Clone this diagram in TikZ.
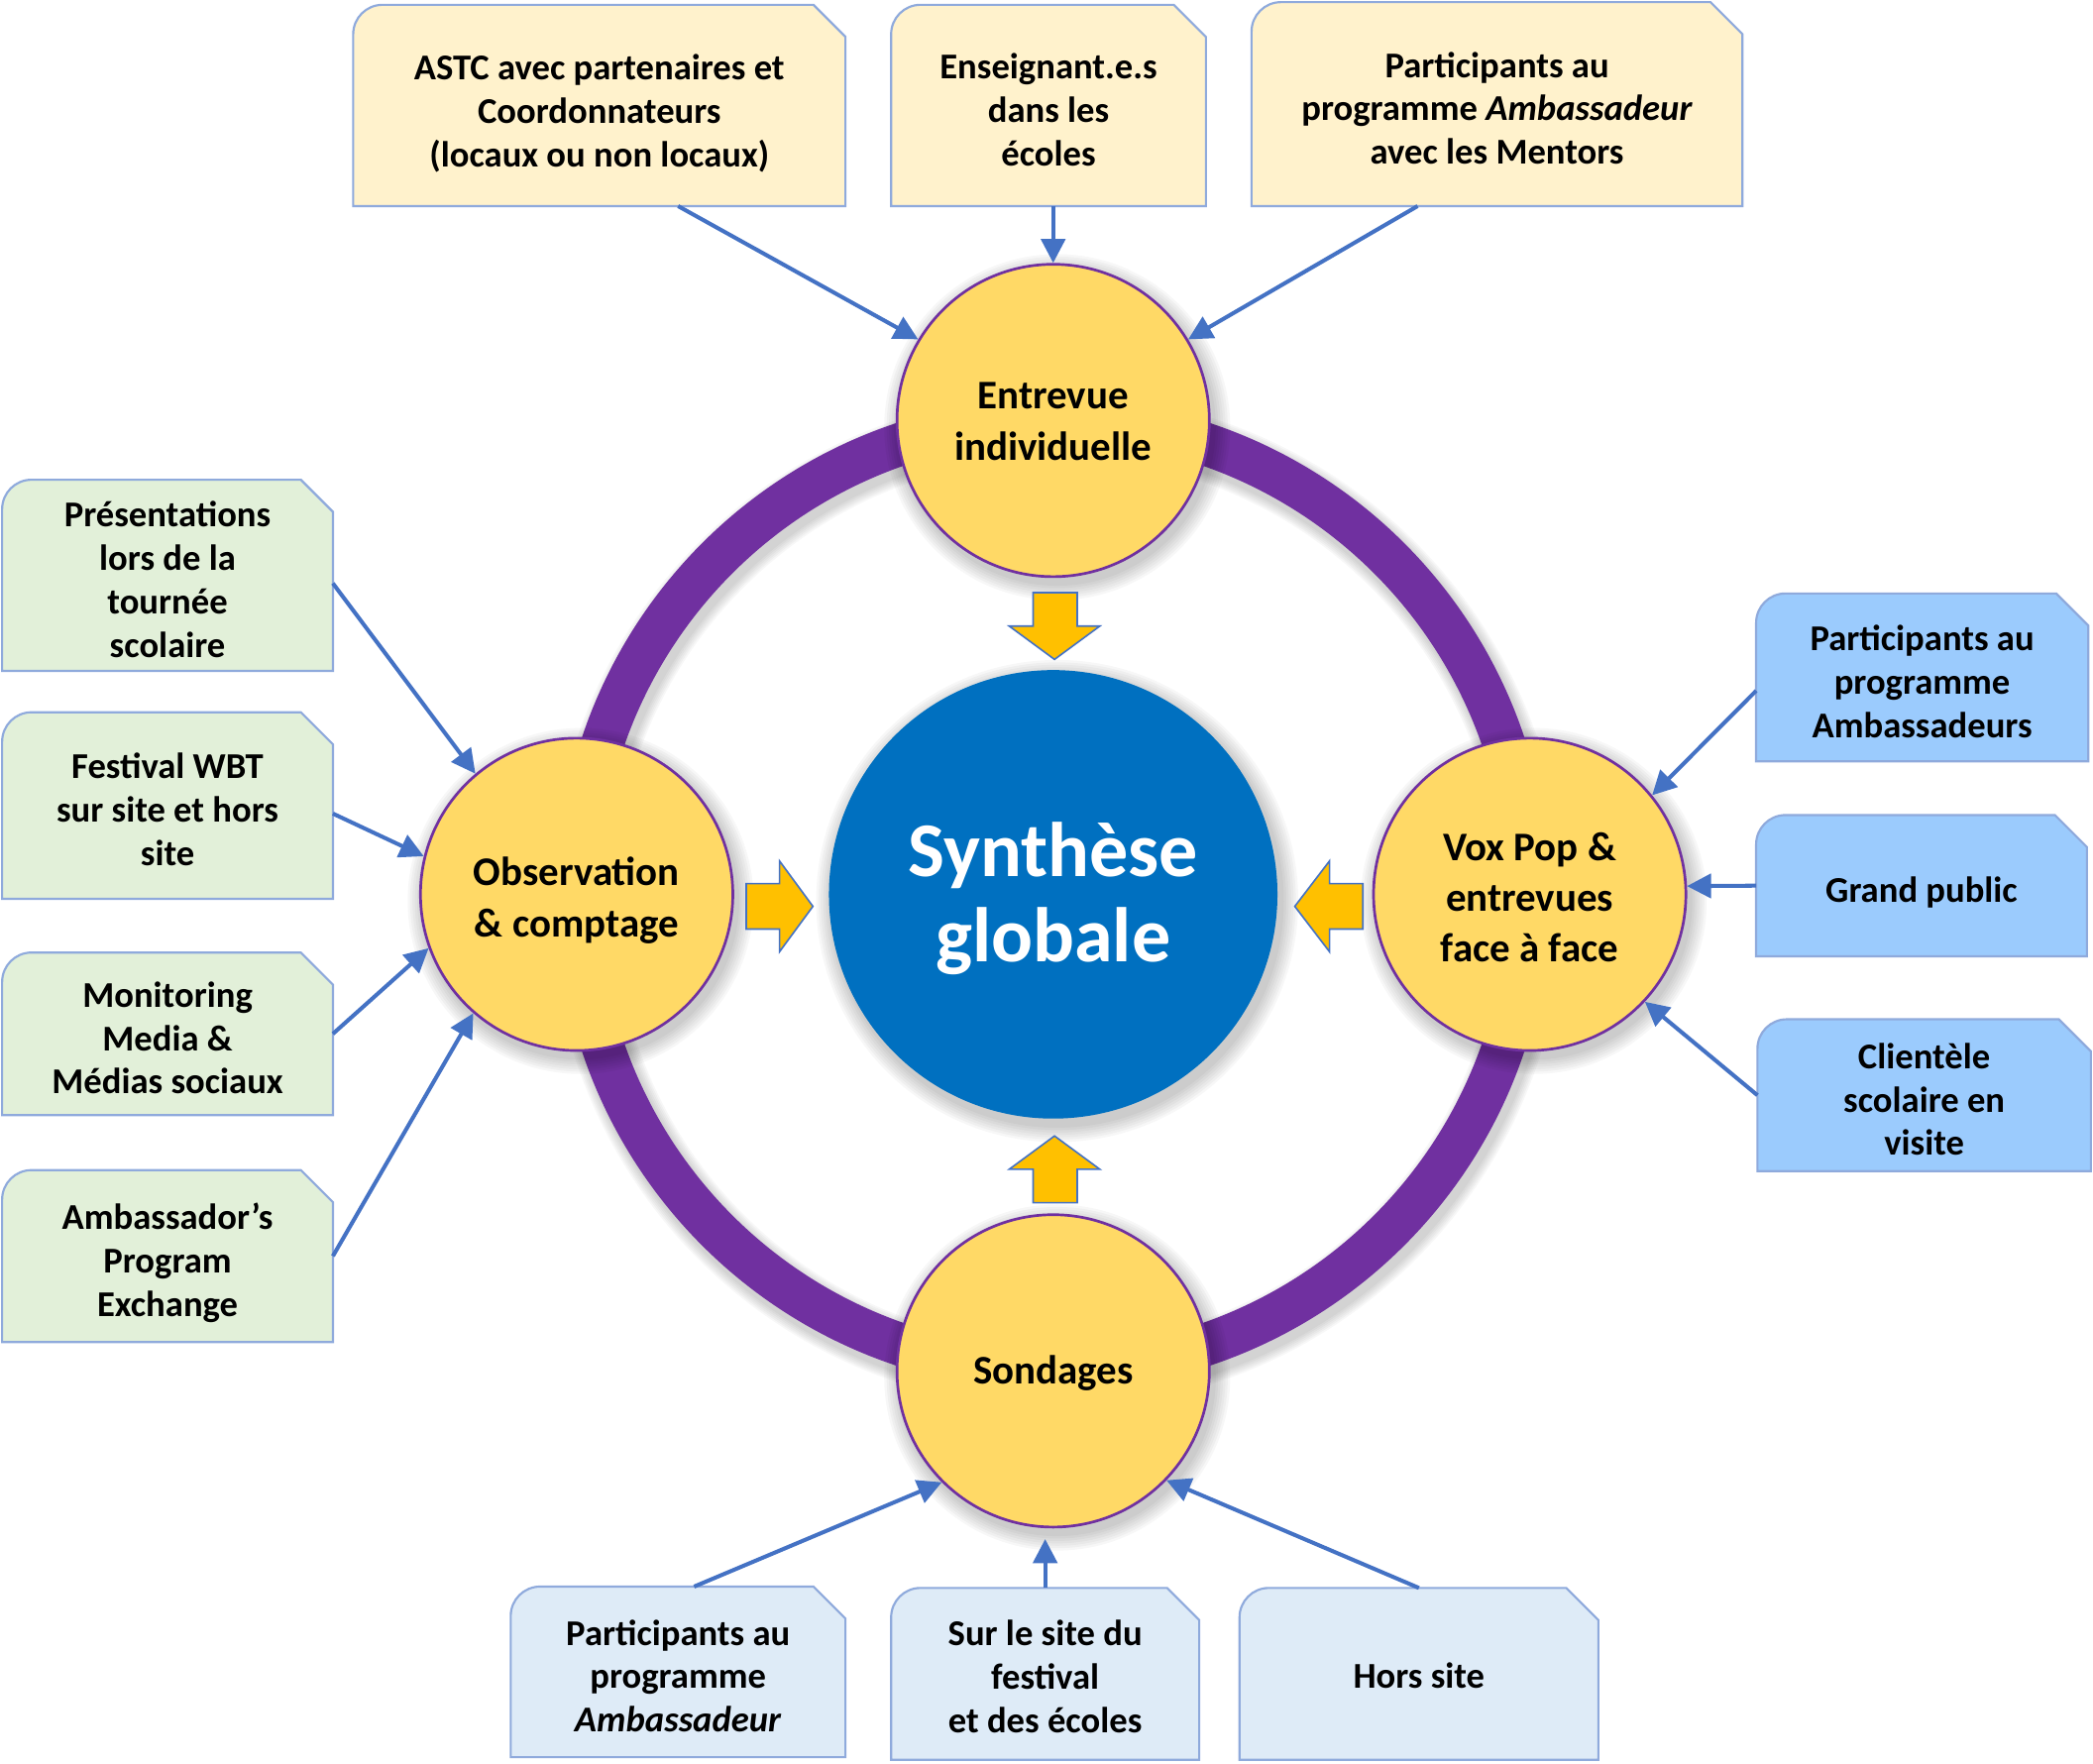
\documentclass[tikz,border=0pt]{standalone}
\usepackage{fontspec}
\setmainfont{Carlito}
\usetikzlibrary{arrows.meta,backgrounds}
\definecolor{ringc}{HTML}{7030A0}
\definecolor{gold}{HTML}{FFD966}
\definecolor{synb}{HTML}{0070C0}
\definecolor{arrowb}{HTML}{4472C4}
\definecolor{blocky}{HTML}{FFC000}
\definecolor{boxline}{HTML}{8FAADC}
\definecolor{topfill}{HTML}{FFF2CC}
\definecolor{leftfill}{HTML}{E2F0D9}
\definecolor{rightfill}{HTML}{9BCBFD}
\definecolor{botfill}{HTML}{DEEBF7}
\newcommand\bt[2][6pt]{\raisebox{0pt}[\dimexpr\height+#1\relax][\depth]{\begin{tabular}{@{}c@{}}#2\end{tabular}}}
\newcommand\snipframe[2]{%
  \begin{scope}[on background layer]
    \filldraw[fill=#2, draw=boxline, line width=0.8pt]
      (#1.south west) -- ([yshift=-11pt]#1.north west)
      arc[start angle=180, end angle=90, radius=11pt]
      -- ([xshift=-12pt]#1.north east) -- ([yshift=-12pt]#1.north east)
      -- (#1.south east) -- cycle;
  \end{scope}}
\newcommand\softshadow[2]{%
  \foreach \k in {1,...,7}{%
    \pgfmathsetmacro\rr{#2+\k*0.9}%
    \fill[black, opacity=0.03] ([shift={(1.5pt,-2.5pt)}]#1) circle[radius=\rr pt];}}
\begin{document}
\begin{tikzpicture}[x=0.5pt, y=-0.5pt,
  box/.style={inner sep=0pt, align=center, font=\bfseries\fontsize{13.6pt}{16.3pt}\selectfont},
  method/.style={circle, fill=gold, draw=ringc, line width=1pt, minimum size=117pt,
    inner sep=0pt, align=center, font=\bfseries\fontsize{15.2pt}{19pt}\selectfont},
  core/.style={circle, fill=synb, minimum size=168pt, inner sep=0pt, align=center,
    text=white, font=\bfseries\fontsize{29pt}{32pt}\selectfont},
  conn/.style={-{Triangle[length=9pt,width=9pt]}, arrowb, line width=1.5pt},
  block/.style={fill=blocky, draw=arrowb, line width=0.6pt, line join=miter}]
\useasboundingbox (0,0) rectangle (1568,1321);

% positions
\coordinate (pC) at (789,670);
\coordinate (pE) at (789,315);
\coordinate (pO) at (432,670);
\coordinate (pV) at (1146,670);
\coordinate (pS) at (789,1027);

% ring with shadow
\foreach \k in {1,...,6}{%
  \pgfmathsetmacro\lw{16+\k*1.3}%
  \draw[black, opacity=0.03, line width=\lw pt] ([shift={(1.5pt,-2.5pt)}]pC) circle[radius=178pt];}
\draw[ringc, line width=16pt] (pC) circle[radius=178pt];

% shadows of circles
\softshadow{pC}{84}
\softshadow{pE}{58.5}
\softshadow{pO}{58.5}
\softshadow{pV}{58.5}
\softshadow{pS}{58.5}

% circles
\node[core] (syn) at (pC) {\bt[6pt]{Synthèse\\globale}};
\node[method] (ent) at (pE) {\bt[3pt]{Entrevue\\individuelle}};
\node[method] (obs) at (pO) {\bt[5pt]{Observation\\\& comptage}};
\node[method] (vox) at (pV) {\bt[5pt]{Vox Pop \&\\entrevues\\face à face}};
\node[method] (sond) at (pS) {\bt[2pt]{Sondages}};

% block arrows
\draw[block] (774,444) -- (807,444) -- (807,469) -- (824,469) -- (790,494) -- (756,469) -- (774,469) -- cycle;
\draw[block] (774,901) -- (807,901) -- (807,876) -- (824,876) -- (790,851) -- (756,876) -- (774,876) -- cycle;
\draw[block] (559,662) -- (584,662) -- (584,645) -- (609,679) -- (584,713) -- (584,696) -- (559,696) -- cycle;
\draw[block] (1021,662) -- (996,662) -- (996,645) -- (970,679) -- (996,713) -- (996,696) -- (1021,696) -- cycle;

% top boxes
\node[box, minimum width=184pt, minimum height=75pt] (astc) at (449,79) {\bt[7pt]{ASTC avec partenaires et\\Coordonnateurs\\(locaux ou non locaux)}};
\node[box, minimum width=117.5pt, minimum height=75pt] (ens) at (785.5,79) {\bt{Enseignant.e.s\\dans les\\écoles}};
\node[box, minimum width=183.5pt, minimum height=76pt] (part) at (1121.5,78) {\bt{Participants au\\programme \textit{Ambassadeur}\\avec les Mentors}};
\snipframe{astc}{topfill}
\snipframe{ens}{topfill}
\snipframe{part}{topfill}

% left boxes
\node[box, minimum width=123.5pt, minimum height=70pt] (pres) at (125.5,431) {\bt{Présentations\\lors de la\\tournée\\scolaire}};
\node[box, minimum width=123.5pt, minimum height=69.5pt] (fest) at (125.5,603.5) {\bt{Festival WBT\\sur site et hors\\site}};
\node[box, minimum width=123.5pt, minimum height=60.5pt] (moni) at (125.5,774.5) {\bt{Monitoring\\Media \&\\Médias sociaux}};
\node[box, minimum width=123.5pt, minimum height=64pt] (amb) at (125.5,941) {\bt{Ambassador’s\\Program\\Exchange}};
\snipframe{pres}{leftfill}
\snipframe{fest}{leftfill}
\snipframe{moni}{leftfill}
\snipframe{amb}{leftfill}

% right boxes
\node[box, minimum width=124pt, minimum height=62.5pt] (rp1) at (1440,507.5) {\bt{Participants au\\programme\\Ambassadeurs}};
\node[box, minimum width=123.5pt, minimum height=52.5pt] (rp2) at (1439.5,663.5) {\bt{Grand public}};
\node[box, minimum width=124.5pt, minimum height=56.5pt] (rp3) at (1441.5,820.5) {\bt{Clientèle\\scolaire en\\visite}};
\snipframe{rp1}{rightfill}
\snipframe{rp2}{rightfill}
\snipframe{rp3}{rightfill}

% bottom boxes
\node[box, minimum width=125pt, minimum height=63.5pt] (b1) at (508,1252.5) {\bt{Participants au\\programme\\\textit{Ambassadeur}}};
\node[box, minimum width=115pt, minimum height=64pt] (b2) at (783,1254) {\bt[5pt]{Sur le site du\\festival\\et des écoles}};
\node[box, minimum width=134pt, minimum height=64pt] (b3) at (1063,1254) {\bt[4pt]{Hors site}};
\snipframe{b1}{botfill}
\snipframe{b2}{botfill}
\snipframe{b3}{botfill}

% connectors
\draw[conn] ([xshift=29.5pt]astc.south) -- (ent.149);
\draw[conn] (ens.south -| ent.north) -- (ent.north);
\draw[conn] ([xshift=-29.75pt]part.south) -- (ent.31.5);

\draw[conn] ([yshift=-3pt]pres.east) -- (obs.130);
\draw[conn] ([yshift=-3pt]fest.east) -- (obs.166);
\draw[conn] (moni.east) -- (obs.200);
\draw[conn] (amb.east) -- (obs.229);

\draw[conn] ([yshift=-5pt]rp1.west) -- (vox.39);
\draw[conn] (rp2.west) -- (vox.3);
\draw[conn] (rp3.west) -- (vox.317);

\draw[conn] ([xshift=6pt]b1.north) -- (sond.225);
\draw[conn, shorten >=4pt] (b2.north) -- (b2.north |- sond.south);
\draw[conn] (b3.north) -- (sond.316);
\end{tikzpicture}
\end{document}
